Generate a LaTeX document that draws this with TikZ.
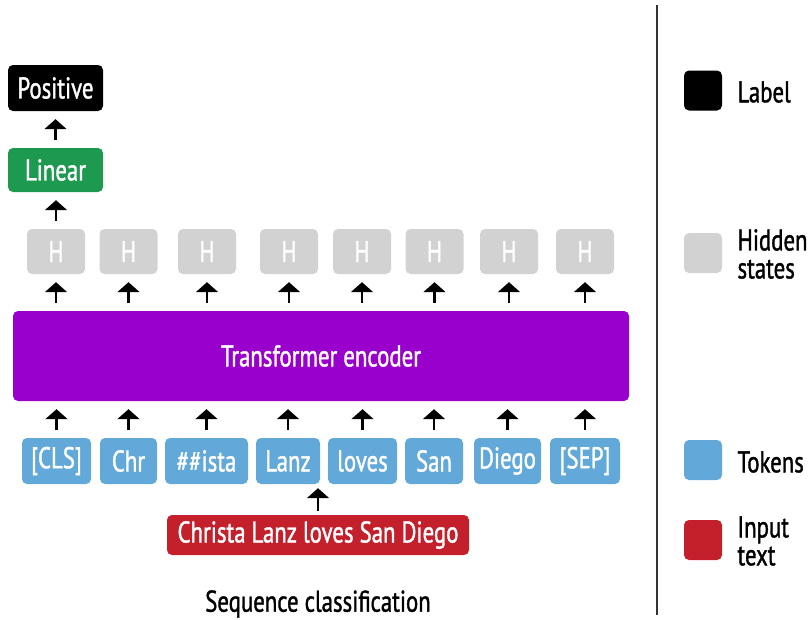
\documentclass[tikz,border=0pt]{standalone}
\usepackage{fontspec}
\setmainfont{PT Sans}[FakeStretch=0.76, FakeBold=1.2]
\usetikzlibrary{arrows.meta}
\definecolor{cgreen}{HTML}{1E9A50}
\definecolor{cgray}{HTML}{D2D2D2}
\definecolor{cblue}{HTML}{62A9D9}
\definecolor{cpurple}{HTML}{9900CC}
\definecolor{cred}{HTML}{C4202C}
\tikzset{
  box/.style={rounded corners=5pt, inner sep=0pt, text=white, font=\fontsize{30}{32}\selectfont, minimum height=46pt},
  tok/.style={box, fill=cblue},
  hid/.style={box, fill=cgray, minimum width=58pt, minimum height=45pt},
  leg/.style={rounded corners=5pt, minimum width=38pt, minimum height=40pt, inner sep=0pt},
  legtxt/.style={anchor=west, align=left, font=\fontsize{30}{28}\selectfont},
  arr/.style={line width=2.2pt, arrows={-Triangle[width=22pt,length=10pt]}, shorten <=8pt, shorten >=8pt}
}
\begin{document}
\begin{tikzpicture}[x=1pt,y=-1pt]
\useasboundingbox (0,0) rectangle (811,619);
% output
\node[box, fill=black, minimum width=95pt] (pos) at (55.5,88) {Positive};
\node[box, fill=cgreen, minimum width=95pt, minimum height=44pt] (lin) at (55.5,170) {Linear};
% hidden states
\foreach \i/\x in {1/56,2/128.5,3/207,4/289,5/362,6/434.5,7/509,8/585}{
  \node[hid] (h\i) at (\x,251.5) {H};
}
% encoder
\node[box, fill=cpurple, minimum width=616pt, minimum height=90pt] (enc) at (321,356) {Transformer encoder};
% tokens
\node[tok, minimum width=69pt] (t1) at (56.5,461) {[CLS]};
\node[tok, minimum width=57pt] (t2) at (128.5,461) {Chr};
\node[tok, minimum width=83pt] (t3) at (206.5,461) {\#\#ista};
\node[tok, minimum width=64pt] (t4) at (288,461) {Lanz};
\node[tok, minimum width=69pt] (t5) at (362.5,461) {loves};
\node[tok, minimum width=58pt] (t6) at (434,461) {San};
\node[tok, minimum width=67pt] (t7) at (507.5,461) {Diego};
\node[tok, minimum width=70pt] (t8) at (585,461) {[SEP]};
% input
\node[box, fill=cred, minimum width=302pt, minimum height=40pt] (inp) at (318,535) {Christa Lanz loves San Diego};
\node[font=\fontsize{30}{32}\selectfont] (cap) at (318,604) {Sequence classification};
% arrows
\draw[arr] (lin) -- (pos);
\draw[arr] (h1.north) -- (lin.south -| h1.north);
\foreach \i in {1,...,8}{
  \draw[arr] (enc.north -| h\i.south) -- (h\i.south);
  \draw[arr] (t\i.north) -- (enc.south -| t\i.north);
}
\draw[arr, shorten <=4pt, shorten >=4pt] (inp.north) -- (t4.south -| inp.north);
% divider
\coordinate (d1) at (657,5);
\coordinate (d2) at (657,615);
\draw[line width=1.5pt, black!80] (d1) -- (d2);
% legend
\node[leg, fill=black] (l1) at (703,90.5) {};
\node[legtxt] (l1t) at (734,92) {Label};
\node[leg, fill=cgray] (l2) at (703,253) {};
\node[legtxt] (l2t) at (734,254) {Hidden\\states};
\node[leg, fill=cblue] (l3) at (703,460) {};
\node[legtxt] (l3t) at (734,462) {Tokens};
\node[leg, fill=cred] (l4) at (703,540) {};
\node[legtxt] (l4t) at (734,541) {Input\\text};
\end{tikzpicture}
\end{document}
